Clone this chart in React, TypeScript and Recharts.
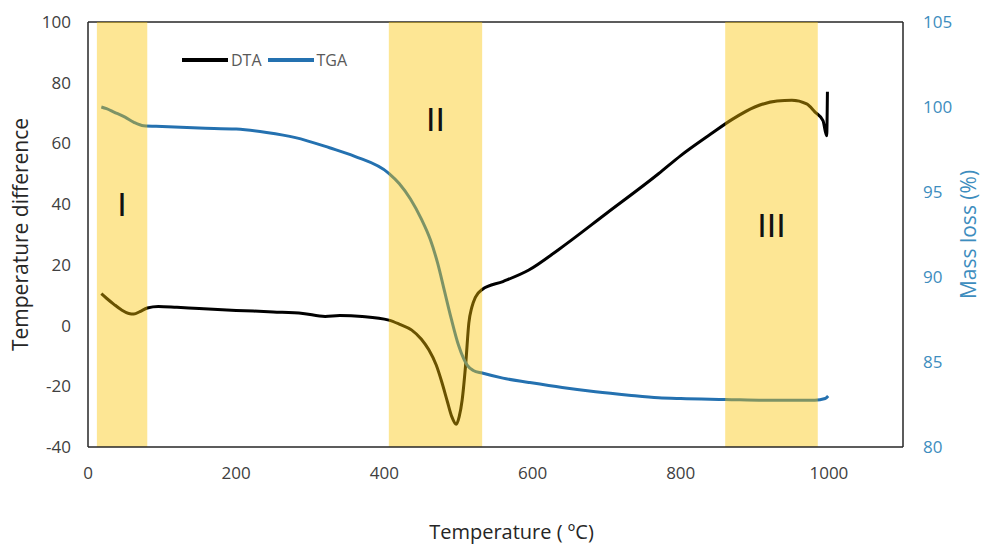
import React from 'react'
import { LineChart, Line, XAxis, YAxis, ReferenceArea, ReferenceLine, ReferenceDot } from 'recharts'

// DTA curve (left axis)
const dtaTemp = [18, 25, 35, 45, 55, 62, 70, 80, 95, 120, 150, 200, 250, 290, 320, 340, 370, 406, 420, 437, 450, 460, 470, 478, 485, 491, 497, 501, 505, 510, 514, 518, 523, 532, 560, 595, 635, 700, 770, 800, 840, 870, 900, 930, 950, 970, 981, 992, 997, 998]
const dtaValue = [10.5, 9, 7, 5.2, 4, 3.8, 4.6, 5.8, 6.3, 6, 5.6, 5, 4.5, 4, 3, 3.3, 3, 1.8, 0.5, -1.5, -4.5, -8, -13, -19, -25, -30, -32.5, -30, -24.5, -12, 0.8, 6, 9.4, 11.9, 14.5, 18.3, 25, 37, 50, 56, 63, 68, 72, 74, 74.2, 73, 70.4, 67.5, 62.5, 77]

// TGA curve (right axis)
const tgaTemp = [18, 25, 35, 50, 62, 75, 100, 150, 200, 241, 280, 326, 360, 406, 420, 435, 450, 462, 472, 481, 490, 500, 507, 512, 520, 532, 560, 595, 640, 685, 730, 770, 800, 860, 920, 981, 995, 999]
const tgaMass = [100.0, 99.9, 99.7, 99.4, 99.1, 98.9, 98.85, 98.76, 98.7, 98.5, 98.2, 97.6, 97.1, 96.1, 95.5, 94.6, 93.4, 92.2, 90.8, 89.2, 87.6, 86.0, 85.2, 84.8, 84.5, 84.35, 84.05, 83.8, 83.5, 83.25, 83.05, 82.9, 82.85, 82.8, 82.75, 82.75, 82.85, 83.0]

// decomposition stages
const stageNames = ['I', 'II', 'III']
const stageStart = [12, 406, 860]
const stageEnd = [80, 532, 985]
const stageLabelY = [40, 68, 33]

const xTicks = [0, 200, 400, 600, 800, 1000]
const leftTicks = [-40, -20, 0, 20, 40, 60, 80, 100]
const rightTicks = [80, 85, 90, 95, 100, 105]

const dtaData = dtaTemp.map((t, i) => ({ temp: t, dta: dtaValue[i] }))
const tgaData = tgaTemp.map((t, i) => ({ temp: t, tga: tgaMass[i] }))

const FONT = "'Open Sans', 'Liberation Sans', Arial, sans-serif"
const AXIS = '#262626'
const BLUE = '#2471B0'
const BLUE_TEXT = '#3D8DBE'

const VerticalTitle = (props: any) => {
  const { viewBox, value, x, color } = props
  const cy = viewBox.y + viewBox.height / 2
  return (
    <text x={x} y={cy} transform={`rotate(-90 ${x} ${cy})`} textAnchor="middle"
      dominantBaseline="central" fill={color} fontSize={21} fontFamily={FONT}>
      {value}
    </text>
  )
}

const BottomTitle = (props: any) => {
  const { viewBox } = props
  const cx = viewBox.x + viewBox.width / 2 + 16
  return (
    <text x={cx} y={531} textAnchor="middle" dominantBaseline="central"
      fill="#262626" fontSize={20} fontFamily={FONT}>
      Temperature ( ºC)
    </text>
  )
}

const legendItem = (color: string, text: string) => (
  <div style={{ display: 'flex', alignItems: 'center', marginRight: 6 }}>
    <div style={{ width: 46, height: 3.5, background: color, marginRight: 3 }} />
    <span style={{ color: '#595959', fontSize: 16 }}>{text}</span>
  </div>
)

export default function App() {
  return (
    <div style={{ position: 'absolute', left: 0, top: 0, width: 985, height: 544, background: '#fff', fontFamily: FONT }}>
      <LineChart width={985} height={544} data={dtaData} margin={{ top: 22, right: 0, bottom: 0, left: 0 }}>
        <XAxis dataKey="temp" type="number" domain={[0, 1100]} ticks={xTicks} height={97}
          tickLine={false} tickMargin={14} axisLine={{ stroke: AXIS, strokeWidth: 1.5 }}
          tick={{ fill: '#404040', fontSize: 17 }} allowDataOverflow
          label={{ content: (p: any) => <BottomTitle {...p} /> }} />
        <YAxis yAxisId="left" domain={[-40, 100]} ticks={leftTicks} width={88}
          tickLine={false} tickMargin={11} axisLine={{ stroke: AXIS, strokeWidth: 1.5 }}
          tick={{ fill: '#404040', fontSize: 17 }} allowDataOverflow
          label={{ content: (p: any) => <VerticalTitle {...p} x={20} value="Temperature difference" color="#262626" /> }} />
        <YAxis yAxisId="right" orientation="right" domain={[80, 105]} ticks={rightTicks} width={82}
          tickLine={false} tickMargin={14} axisLine={{ stroke: AXIS, strokeWidth: 1.5 }}
          tick={{ fill: BLUE_TEXT, fontSize: 17 }} allowDataOverflow
          label={{ content: (p: any) => <VerticalTitle {...p} x={968} value="Mass loss (%)" color={BLUE_TEXT} /> }} />
        <ReferenceLine yAxisId="left" y={100} stroke={AXIS} strokeWidth={1.5} />

        <Line yAxisId="left" data={dtaData} dataKey="dta" type="monotone" stroke="#000"
          strokeWidth={3} dot={false} isAnimationActive={false} />
        <Line yAxisId="right" data={tgaData} dataKey="tga" type="monotone" stroke={BLUE}
          strokeWidth={3} dot={false} isAnimationActive={false} />

        {stageNames.map((name, i) => (
          <ReferenceArea key={name} yAxisId="left" x1={stageStart[i]} x2={stageEnd[i]} y1={-40} y2={100}
            fill="#FAC300" fillOpacity={0.42} stroke="none" zIndex={450} />
        ))}
        {stageNames.map((name, i) => (
          <ReferenceDot key={'l' + name} yAxisId="left" x={(stageStart[i] + stageEnd[i]) / 2} y={stageLabelY[i]}
            r={0} fill="none" stroke="none" zIndex={460}
            label={{ value: name, position: 'center', fill: '#111', fontSize: 34, fontFamily: "'Liberation Sans', Arial, sans-serif" }} />
        ))}
      </LineChart>
      <div style={{ position: 'absolute', left: 182, top: 50, display: 'flex', alignItems: 'center', height: 20 }}>
        {legendItem('#000', 'DTA')}
        {legendItem(BLUE, 'TGA')}
      </div>
    </div>
  )
}
